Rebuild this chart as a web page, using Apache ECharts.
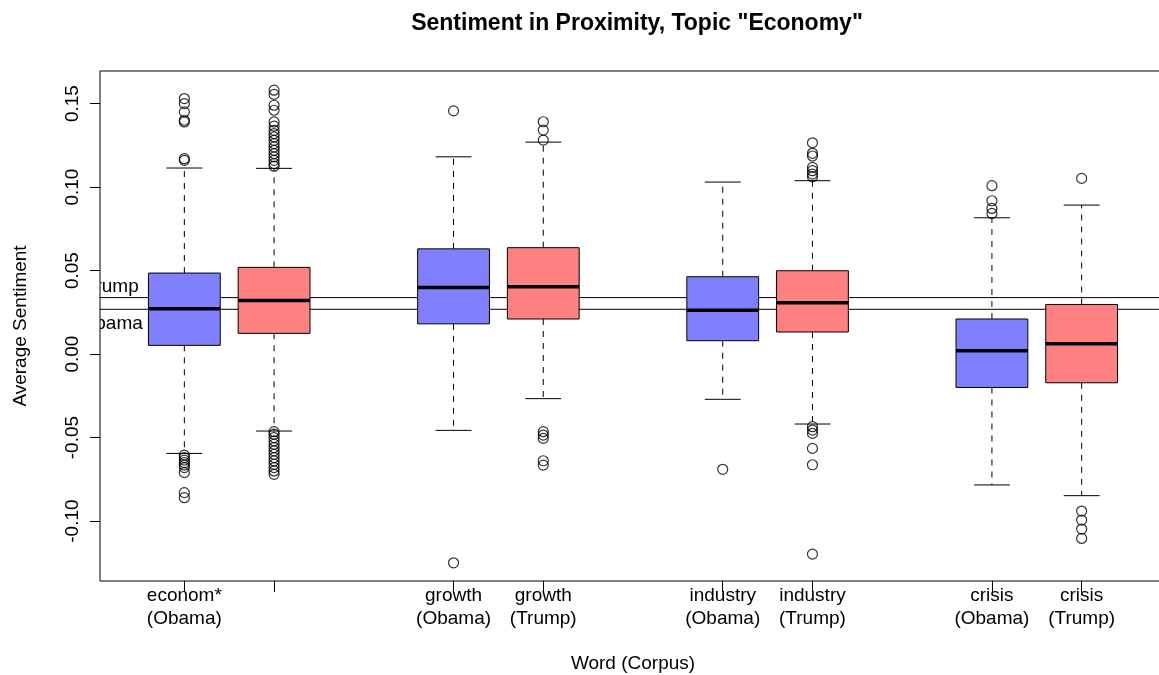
<!DOCTYPE html>
<html>
<head>
<meta charset="utf-8">
<script src="https://cdn.jsdelivr.net/npm/echarts@6/dist/echarts.min.js"></script>
<style>
html,body{margin:0;padding:0;background:#fff;}
#chart{width:1159px;height:675px;}
</style>
</head>
<body>
<div id="chart"></div>
<script>
// ---- data ----
const positions = [1, 2, 4, 5, 7, 8, 10, 11];
const words = ['econom*', 'econom*', 'growth', 'growth', 'industry', 'industry', 'crisis', 'crisis'];
const corpora = ['Obama', 'Trump', 'Obama', 'Trump', 'Obama', 'Trump', 'Obama', 'Trump'];
const hiddenLabels = [2]; // label dropped in the original (overlap)
// [lower whisker, Q1, median, Q3, upper whisker]
const econObama    = [-0.0595, 0.0052, 0.0271, 0.0485, 0.1114];
const econTrump    = [-0.0461, 0.0124, 0.0321, 0.0519, 0.1112];
const growthObama  = [-0.0457, 0.0181, 0.0399, 0.0630, 0.1181];
const growthTrump  = [-0.0267, 0.0210, 0.0403, 0.0637, 0.1269];
const industryObama= [-0.0271, 0.0080, 0.0263, 0.0463, 0.1030];
const industryTrump= [-0.0419, 0.0132, 0.0307, 0.0499, 0.1038];
const crisisObama  = [-0.0784, -0.0200, 0.0020, 0.0210, 0.0816];
const crisisTrump  = [-0.0848, -0.0172, 0.0062, 0.0297, 0.0892];
// outliers
const econObamaOut = [0.153, 0.150, 0.145, 0.140, 0.139, 0.117, 0.116, -0.0605, -0.062, -0.0635, -0.065, -0.0665, -0.068, -0.071, -0.083, -0.086];
const econTrumpOut = [0.158, 0.1555, 0.149, 0.146, 0.139, 0.1365, 0.134, 0.132, 0.130, 0.128, 0.126, 0.124, 0.122, 0.120, 0.118, 0.116, 0.114, 0.1125,
  -0.0465, -0.048, -0.050, -0.052, -0.054, -0.056, -0.058, -0.060, -0.062, -0.064, -0.066, -0.068, -0.070, -0.072];
const growthObamaOut = [0.1456, -0.125];
const growthTrumpOut = [0.1391, 0.1341, 0.1281, -0.0465, -0.0485, -0.0505, -0.0639, -0.0665];
const industryObamaOut = [-0.069];
const industryTrumpOut = [0.1265, 0.1202, 0.1186, 0.1118, 0.1098, 0.1078, 0.1062, -0.0435, -0.0455, -0.0475, -0.0565, -0.0663, -0.1198];
const crisisObamaOut = [0.1008, 0.0918, 0.0872, 0.0842];
const crisisTrumpOut = [0.1052, -0.0940, -0.0994, -0.1048, -0.1104];
// reference lines (corpus means)
const meanNames = ['Trump', 'Obama'];
const meanValues = [0.0338, 0.0268];
const yTicks = [-0.10, -0.05, 0.00, 0.05, 0.10, 0.15];

// ---- build ----
const stats = [econObama, econTrump, growthObama, growthTrump, industryObama, industryTrump, crisisObama, crisisTrump];
const outs = [econObamaOut, econTrumpOut, growthObamaOut, growthTrumpOut, industryObamaOut, industryTrumpOut, crisisObamaOut, crisisTrumpOut];
const corpusColor = { Obama: '#8080FF', Trump: '#FF8080' };
const boxData = positions.map((p, i) => [p].concat(stats[i]).concat([i]));
const outlierData = [];
outs.forEach((arr, i) => arr.forEach(v => outlierData.push([positions[i], v])));
const labelMap = {};
positions.forEach((p, i) => { labelMap[p] = hiddenLabels.indexOf(p) >= 0 ? '' : words[i] + '\n(' + corpora[i] + ')'; });

const X_MIN = 0.06, X_MAX = 11.94;
const FONT = '"Liberation Sans", Arial, Helvetica, sans-serif';

function renderBox(params, api) {
  const x = api.value(0);
  const idx = api.value(6);
  const cy = (v) => api.coord([x, v])[1];
  const cx = api.coord([x, 0])[0];
  const left = api.coord([x - 0.4, 0])[0];
  const right = api.coord([x + 0.4, 0])[0];
  const capL = api.coord([x - 0.2, 0])[0];
  const capR = api.coord([x + 0.2, 0])[0];
  const yLow = cy(api.value(1)), yQ1 = cy(api.value(2)), yMed = cy(api.value(3)), yQ3 = cy(api.value(4)), yHigh = cy(api.value(5));
  const black = '#000';
  return {
    type: 'group',
    children: [
      { type: 'line', shape: { x1: cx, y1: yQ3, x2: cx, y2: yHigh }, style: { stroke: black, lineWidth: 1, lineDash: [6, 6] } },
      { type: 'line', shape: { x1: cx, y1: yQ1, x2: cx, y2: yLow }, style: { stroke: black, lineWidth: 1, lineDash: [6, 6] } },
      { type: 'line', shape: { x1: capL, y1: yHigh, x2: capR, y2: yHigh }, style: { stroke: black, lineWidth: 1 } },
      { type: 'line', shape: { x1: capL, y1: yLow, x2: capR, y2: yLow }, style: { stroke: black, lineWidth: 1 } },
      { type: 'rect', shape: { x: left, y: yQ3, width: right - left, height: yQ1 - yQ3 }, style: { fill: corpusColor[corpora[idx]], stroke: black, lineWidth: 1 } },
      { type: 'line', shape: { x1: left, y1: yMed, x2: right, y2: yMed }, style: { stroke: black, lineWidth: 3.5 } }
    ]
  };
}

function renderMean(params, api) {
  const i = params.dataIndex;
  const v = api.value(1);
  const p0 = api.coord([X_MIN, v]);
  const p1 = api.coord([X_MAX, v]);
  const lp = api.coord([api.value(0), v]);
  const dy = meanNames[i] === 'Trump' ? -11 : 14;
  return {
    type: 'group',
    children: [
      { type: 'line', shape: { x1: p0[0], y1: p0[1], x2: p1[0], y2: p1[1] }, style: { stroke: '#000', lineWidth: 1 } },
      { type: 'text', x: lp[0], y: lp[1] + dy,
        style: { text: meanNames[i], fill: '#000', font: '19px ' + FONT, align: 'center', verticalAlign: 'middle' } }
    ]
  };
}

const chart = echarts.init(document.getElementById('chart'), null, { renderer: 'canvas' });
chart.setOption({
  animation: false,
  backgroundColor: '#fff',
  textStyle: { fontFamily: FONT },
  title: {
    text: 'Sentiment in Proximity, Topic "Economy"',
    left: 632, top: 7, textAlign: 'center',
    textStyle: { fontSize: 23, fontWeight: 'bold', color: '#000', fontFamily: FONT }
  },
  grid: {
    left: 100, top: 71, width: 1066, height: 510,
    outerBoundsMode: 'none', containLabel: false,
    show: true, borderColor: '#000', borderWidth: 1, backgroundColor: 'transparent'
  },
  xAxis: {
    type: 'value', min: X_MIN, max: X_MAX,
    name: 'Word (Corpus)', nameLocation: 'middle', nameGap: 73,
    nameTextStyle: { fontSize: 19, color: '#000', fontFamily: FONT },
    axisLine: { show: false, onZero: false },
    splitLine: { show: false },
    axisTick: { show: true, length: 11, customValues: positions, lineStyle: { color: '#000', width: 1 } },
    axisLabel: {
      show: true, customValues: positions, margin: 3,
      formatter: (v) => labelMap[v] !== undefined ? labelMap[v] : '',
      fontSize: 19, lineHeight: 23, color: '#000', fontFamily: FONT
    }
  },
  yAxis: {
    type: 'value', min: -0.1359, max: 0.1695,
    name: 'Average Sentiment', nameLocation: 'middle', nameGap: 70,
    nameTextStyle: { fontSize: 19, color: '#000', fontFamily: FONT },
    axisLine: { show: false, onZero: false },
    splitLine: { show: false },
    axisTick: { show: true, length: 10, customValues: yTicks, lineStyle: { color: '#000', width: 1 } },
    axisLabel: {
      show: true, customValues: yTicks, rotate: 90, margin: 18,
      formatter: (v) => v.toFixed(2),
      fontSize: 19, color: '#000', fontFamily: FONT
    }
  },
  series: [
    {
      type: 'custom', name: 'means', clip: true, z: 1,
      data: meanValues.map(v => [0.19, v]),
      renderItem: renderMean
    },
    {
      type: 'custom', name: 'boxes', z: 2,
      data: boxData,
      renderItem: renderBox
    },
    {
      type: 'scatter', name: 'outliers', z: 4,
      symbol: 'circle', symbolSize: 10,
      itemStyle: { color: 'rgba(0,0,0,0)', borderColor: '#000', borderWidth: 1.2 },
      data: outlierData
    }
  ]
});
</script>
</body>
</html>
